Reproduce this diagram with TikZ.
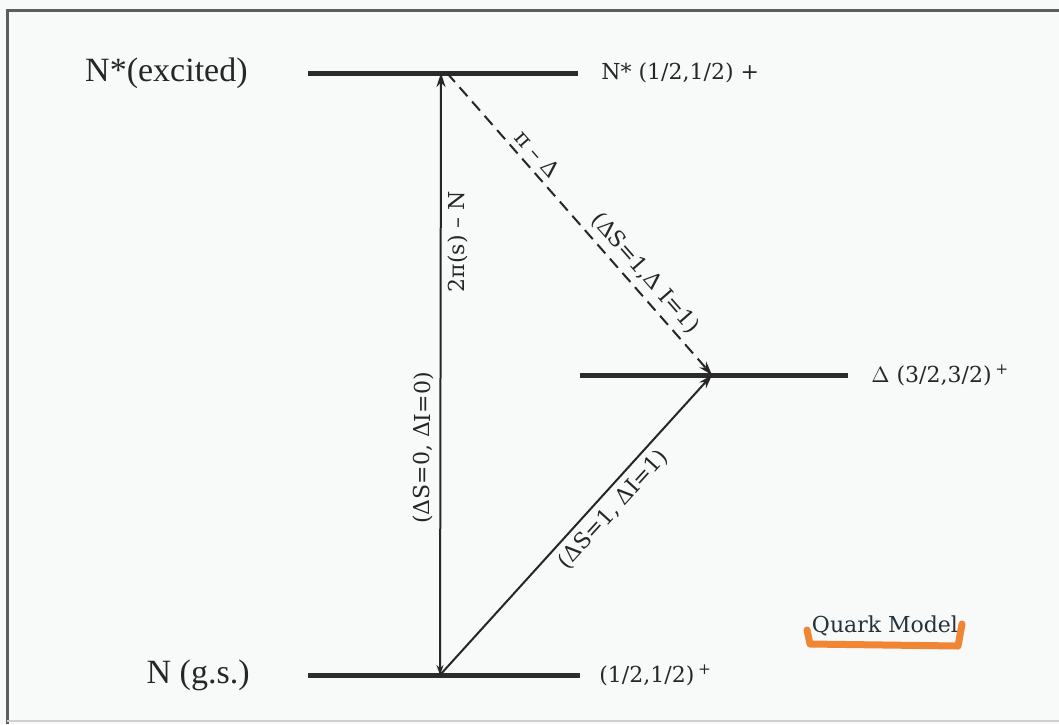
\documentclass[tikz,border=0pt]{standalone}
\usepackage{fontspec}
\setmainfont{Liberation Serif}
\newfontfamily\schfont{DejaVu Serif}
\usetikzlibrary{arrows.meta, positioning}
\definecolor{lvlDark}{HTML}{2B2B2B}
\definecolor{paperBg}{HTML}{F8FAF9}
\definecolor{frameGray}{HTML}{5A5E5C}
\definecolor{inkGray}{HTML}{262626}
\definecolor{slateInk}{HTML}{24323A}
\definecolor{markOrange}{HTML}{F07A1E}
\tikzset{
  levelLine/.style={line width=2.5pt, lvlDark},
  arrowUp/.style={{Stealth[length=5pt, width=3.5pt]}-{Stealth[length=7pt, width=4.5pt]}, inkGray, line width=1pt},
  arrowS/.style={-{Stealth[length=7pt, width=4.5pt]}, inkGray, line width=1pt},
  arrowDash/.style={-{Stealth[length=7pt, width=4.5pt]}, inkGray, line width=1pt, dash pattern=on 6pt off 3.5pt},
  bigLabel/.style={font=\fontsize{17}{19}\selectfont, text=inkGray, inner sep=3pt},
  qnLabel/.style={font=\schfont\fontsize{11}{13}\selectfont, text=inkGray, inner sep=3pt},
  lineLabel/.style={font=\schfont\fontsize{11}{13}\selectfont, text=inkGray, sloped, inner sep=3pt},
}
\begin{document}
\begin{tikzpicture}[x=0.5pt, y=-0.5pt]
    \useasboundingbox (0,0) rectangle (1059,724);
    \fill[paperBg] (0,0) rectangle (1059,724);
    \draw[frameGray, line width=1.5pt] (7,724) -- (7,10) -- (1059,10);
    \draw[frameGray!30, line width=1pt] (7,721) -- (1059,721);
    % energy levels
    \coordinate (nsL) at (308,73);   \coordinate (nsR) at (578,73);
    \coordinate (dlL) at (580,375);  \coordinate (dlR) at (848,375);
    \coordinate (gsL) at (308,675);  \coordinate (gsR) at (580,675);
    \coordinate (nsUp) at (441,73);  \coordinate (nsDn) at (447,73);
    \coordinate (dlJ) at (712,375);
    \coordinate (gsJ) at (440,675);
    \draw[levelLine] (nsL) -- (nsR);
    \draw[levelLine] (dlL) -- (dlR);
    \draw[levelLine] (gsL) -- (gsR);
    \node[bigLabel, left=27pt of nsL] (nsName) {N*(excited)};
    \node[bigLabel, left=26pt of gsL] (gsName) {N (g.s.)};
    \node[qnLabel, right=8.5pt of nsR] (nsQn) {N* (1/2,1/2) +};
    \node[qnLabel, right=8.5pt of dlR] (dlQn) {$\Delta$\ (3/2,3/2)\,\textsuperscript{+}};
    \node[qnLabel, right=6.5pt of gsR] (gsQn) {(1/2,1/2)\,\textsuperscript{+}};
    % transitions
    \draw[arrowUp] (gsJ) -- (nsUp)
      node[lineLabel, pos=0.377, above] {(ΔS=0, ΔI=0)}
      node[lineLabel, pos=0.72, below] {2π(s) – N};
    \draw[arrowDash] (nsDn) -- (dlJ)
      node[lineLabel, pos=0.30, above] {π – Δ}
      node[lineLabel, pos=0.70, above] {(ΔS=1,Δ I=1)};
    \draw[arrowS] (gsJ) -- (dlJ)
      node[lineLabel, pos=0.59, below] {(ΔS=1, ΔI=1)};
    % model tag
    \draw[markOrange, line width=3.5pt, line cap=round, line join=round, opacity=0.9]
      (807,630) -- (810,644) -- (958,646) -- (962,624);
    \node[font=\schfont\fontsize{11}{13}\selectfont, text=slateInk] (qm) at (885,626) {Quark Model};
\end{tikzpicture}
\end{document}
